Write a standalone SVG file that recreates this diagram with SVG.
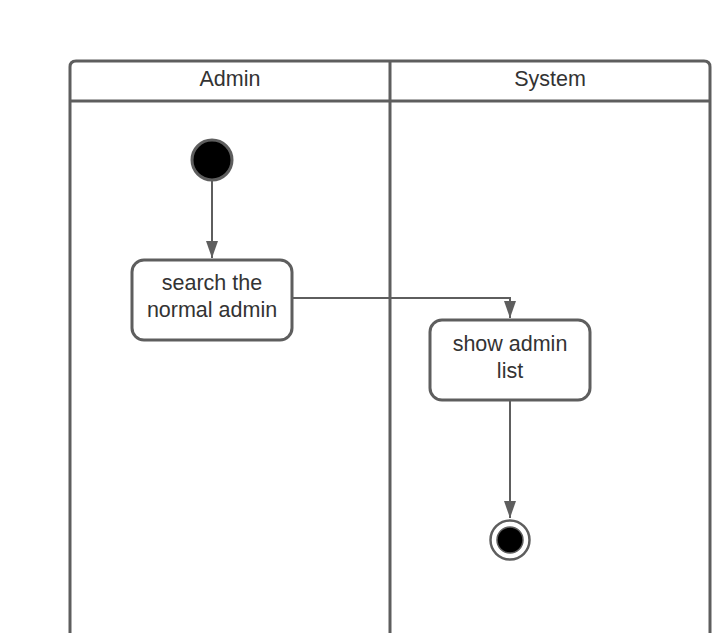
<svg xmlns="http://www.w3.org/2000/svg" width="725" height="633" viewBox="0 0 725 633">
<style>
.frame{fill:none;stroke:#5e5e5e;stroke-width:3}
.node{fill:#fff;stroke:#5e5e5e;stroke-width:3}
.conn{fill:none;stroke:#5e5e5e;stroke-width:2}
text{font-family:"Liberation Sans",Arial,sans-serif;font-size:21.5px;fill:#333;text-anchor:middle}
</style>
<defs>
<marker id="arr" viewBox="0 0 17 12" refX="17" refY="6" markerWidth="17" markerHeight="12" markerUnits="userSpaceOnUse" orient="auto">
<path d="M0,0 L17,6 L0,12 Z" fill="#5e5e5e"/>
</marker>
</defs>
<rect width="725" height="633" fill="#fff"/>
<g id="pool">
<path class="frame" d="M70,633 L70,67 Q70,61 76,61 L704,61 Q710,61 710,67 L710,633"/>
<line class="frame" x1="70" y1="101" x2="710" y2="101"/>
<line class="frame" x1="390" y1="61" x2="390" y2="633"/>
<text x="230" y="86">Admin</text>
<text x="550" y="86">System</text>
</g>
<g id="connectors">
<path class="conn" d="M212,181 L212,258" marker-end="url(#arr)"/>
<path class="conn" d="M293,298 L510,298 L510,318" marker-end="url(#arr)"/>
<path class="conn" d="M510,401 L510,518" marker-end="url(#arr)"/>
</g>
<g id="start">
<circle cx="212" cy="160" r="20" fill="#000" stroke="#5e5e5e" stroke-width="3"/>
</g>
<g id="search">
<rect class="node" x="132" y="260" width="160" height="80" rx="12"/>
<text x="212" y="290">search the</text>
<text x="212" y="317">normal admin</text>
</g>
<g id="show">
<rect class="node" x="430" y="320" width="160" height="80" rx="12"/>
<text x="510" y="351">show admin</text>
<text x="510" y="378">list</text>
</g>
<g id="end">
<circle cx="510" cy="540" r="19.5" fill="#fff" stroke="#5e5e5e" stroke-width="2.5"/>
<circle cx="510" cy="540" r="13" fill="#000" stroke="#5e5e5e" stroke-width="1.5"/>
</g>
</svg>
